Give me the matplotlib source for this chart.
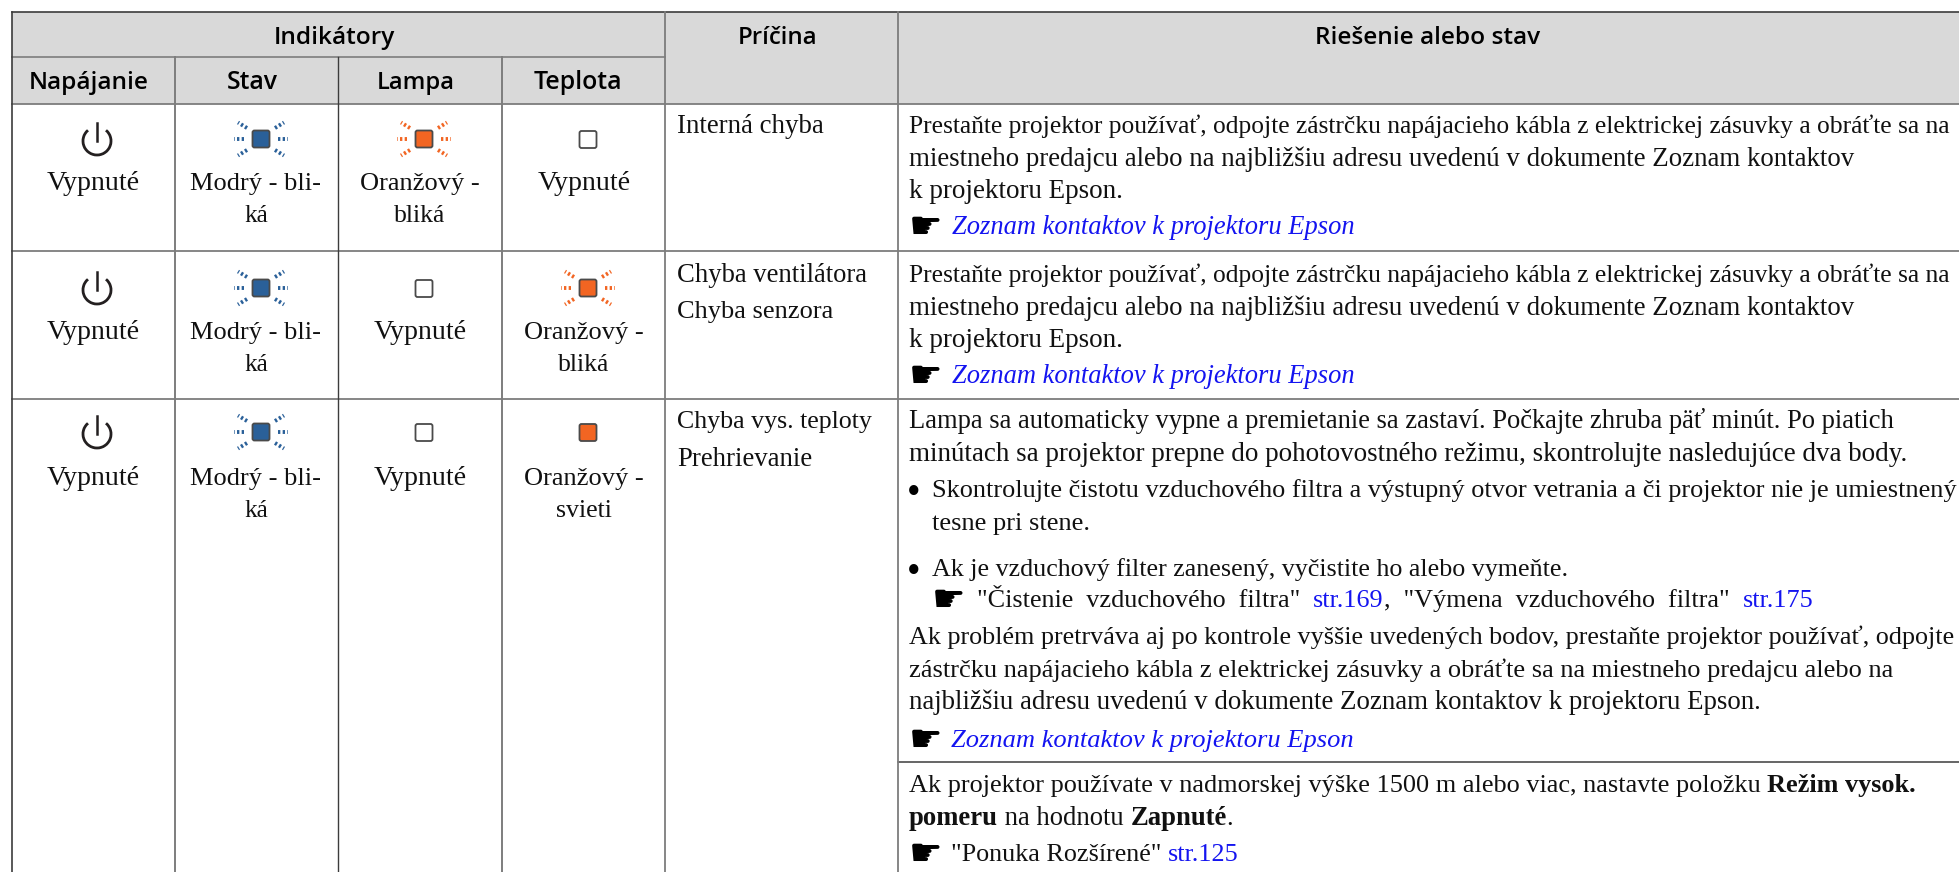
import matplotlib
matplotlib.use('Agg')
import matplotlib.pyplot as plt
from matplotlib.patches import Rectangle, FancyBboxPatch, Arc
from matplotlib.lines import Line2D

W = 1959
H = 872
SERIF = 'Liberation Serif'
HEAD = 'Open Sans'
BODY_SIZE = 17.6
LINK = '#1414f0'

# table text
group_head = ['Indikátory', 'Príčina', 'Riešenie alebo stav']
sub_head = ['Napájanie', 'Stav', 'Lampa', 'Teplota']

# one row per error: (icon, label lines) for the four lamps
lamp_rows = [
    [('power', ['Vypnuté']), ('blue_blink', ['Modrý - bli-', 'ká']), ('orange_blink', ['Oranžový -', 'bliká']), ('off', ['Vypnuté'])],
    [('power', ['Vypnuté']), ('blue_blink', ['Modrý - bli-', 'ká']), ('off', ['Vypnuté']), ('orange_blink', ['Oranžový -', 'bliká'])],
    [('power', ['Vypnuté']), ('blue_blink', ['Modrý - bli-', 'ká']), ('off', ['Vypnuté']), ('orange_on', ['Oranžový -', 'svieti'])],
]
cause_rows = [
    ['Interná chyba'],
    ['Chyba ventilátora', 'Chyba senzora'],
    ['Chyba vys. teploty', 'Prehrievanie'],
]

call_1 = 'Prestaňte projektor používať, odpojte zástrčku napájacieho kábla z elektrickej zásuvky a obráťte sa na'
call_2 = 'miestneho predajcu alebo na najbližšiu adresu uvedenú v dokumente Zoznam kontaktov'
call_3 = 'k projektoru Epson.'
contacts = 'Zoznam kontaktov k projektoru Epson'

solution_lines = [
    [('n', call_1)],
    [('n', call_2)],
    [('n', call_3)],
    [('i', contacts)],
    [('n', call_1)],
    [('n', call_2)],
    [('n', call_3)],
    [('i', contacts)],
    [('n', 'Lampa sa automaticky vypne a premietanie sa zastaví. Počkajte zhruba päť minút. Po piatich')],
    [('n', 'minútach sa projektor prepne do pohotovostného režimu, skontrolujte nasledujúce dva body.')],
    [('n', '•')],
    [('n', 'Skontrolujte čistotu vzduchového filtra a výstupný otvor vetrania a či projektor nie je umiestnený')],
    [('n', 'tesne pri stene.')],
    [('n', '•')],
    [('n', 'Ak je vzduchový filter zanesený, vyčistite ho alebo vymeňte.')],
    [('n', '"Čistenie  vzduchového  filtra"  '), ('l', 'str.169'), ('n', ',  "Výmena  vzduchového  filtra"  '), ('l', 'str.175')],
    [('n', 'Ak problém pretrváva aj po kontrole vyššie uvedených bodov, prestaňte projektor používať, odpojte')],
    [('n', 'zástrčku napájacieho kábla z elektrickej zásuvky a obráťte sa na miestneho predajcu alebo na')],
    [('n', 'najbližšiu adresu uvedenú v dokumente Zoznam kontaktov k projektoru Epson.')],
    [('i', contacts)],
    [('n', 'Ak projektor používate v nadmorskej výške 1500 m alebo viac, nastavte položku '), ('b', 'Režim vysok.')],
    [('b', 'pomeru'), ('n', ' na hodnotu '), ('b', 'Zapnuté'), ('n', '.')],
    [('n', '"Ponuka Rozšírené" '), ('l', 'str.125')],
]

# pixel layout, same order as solution_lines
sol_left = [909, 909, 909, 952, 909, 909, 909, 952, 909, 909, 907, 932, 932, 907, 932, 977, 909, 909, 909, 951, 909, 909, 951]
sol_right = [1950, 1857, 1122, 1355, 1950, 1857, 1122, 1355, 1894, 1907, 1954, 1954, 1090, 1954, 1568, 1810, 1954, 1892, 1762, 1353, 1914, 1233, 1239]
sol_base = [133, 166, 198, 234, 282, 315, 347, 383, 428, 461, 504, 497, 530, 583, 576, 607, 644, 677, 709, 747, 792, 825, 861]
hand_pos = [(909, 234), (909, 383), (932, 607), (909, 747), (909, 861)]

col_x = [12, 175, 338, 502, 665, 898]
row_y = [12, 57, 104, 251, 399]
split_y = 762
lamp_center = [97, 261, 424, 588]
label_center = [93, 256, 420, 584]
label_width = {'Vypnuté': 93, 'Modrý - bli-': 130, 'ká': 24, 'Oranžový -': 119, 'bliká': 51, 'svieti': 56}
icon_y = [140, 289, 433]
label_base = [[190, 222], [339, 371], [485, 517]]
cause_base = [[133], [282, 318], [428, 466]]
cause_right = [[824], [867, 833], [872, 812]]

fig = plt.figure(figsize=(W / 100, H / 100), dpi=100)
ax = fig.add_axes([0, 0, 1, 1])
ax.set_xlim(0, W)
ax.set_ylim(H, 0)
ax.axis('off')
rend = fig.canvas.get_renderer()


def width(t):
    return t.get_window_extent(rend).width


def put_fit(x, y, s, right=None, **kw):
    # shrink or grow the font a little so the line ends where it should
    t = ax.text(x, y, s, va='baseline', **kw)
    if right is not None:
        t.set_fontsize(t.get_fontsize() * (right - x) / width(t))
    return t


def advance(s, size, kind):
    t = ax.text(0, 0, s + '.', fontsize=size, family=SERIF, weight='bold' if kind == 'b' else 'normal',
                style='italic' if kind == 'i' else 'normal')
    d = ax.text(0, 0, '.', fontsize=size, family=SERIF, weight='bold' if kind == 'b' else 'normal',
                style='italic' if kind == 'i' else 'normal')
    a = width(t) - width(d)
    t.remove()
    d.remove()
    return a


def put_runs(runs, left, right, base):
    total = sum(advance(s, BODY_SIZE, k) for k, s in runs)
    size = BODY_SIZE * (right - left) / total
    x = left
    for k, s in runs:
        ax.text(x, base, s, va='baseline', fontsize=size, family=SERIF,
                color=LINK if k in ('l', 'i') else '#111111',
                weight='bold' if k == 'b' else 'normal',
                style='italic' if k == 'i' else 'normal')
        x += advance(s, size, k)


def rounded(cx, cy, color):
    ax.add_patch(FancyBboxPatch((cx - 8.5, cy - 8.5), 17, 17, boxstyle='round,pad=0,rounding_size=2',
                                fc=color, ec='#4a4a4a', lw=1.3, zorder=3))


def rays(cx, cy, color):
    for sx in (-1, 1):
        ax.add_line(Line2D([cx + sx * 17, cx + sx * 27], [cy, cy], color=color, lw=2.8, dashes=(0.6, 0.6)))
        for sy in (-1, 1):
            ax.add_line(Line2D([cx + sx * 14, cx + sx * 23], [cy + sy * 11, cy + sy * 16.5], color=color, lw=2.8, dashes=(0.6, 0.6)))


def icon(kind, cx, cy):
    if kind == 'power':
        ax.add_patch(Arc((cx, cy + 1), 28, 28, theta1=-50, theta2=230, angle=0, lw=2, color='#231f20'))
        ax.add_line(Line2D([cx, cx], [cy - 17, cy + 1], color='#231f20', lw=1.8))
    elif kind == 'off':
        rounded(cx, cy - 0.5, 'white')
    elif kind == 'orange_on':
        rounded(cx, cy - 0.5, '#f26522')
    elif kind == 'blue_blink':
        rays(cx, cy - 1, '#2a6099')
        rounded(cx, cy - 1, '#2a6099')
    elif kind == 'orange_blink':
        rays(cx, cy - 1, '#f26522')
        rounded(cx, cy - 1, '#f26522')


# header background
ax.add_patch(Rectangle((col_x[0], row_y[0]), W - col_x[0], row_y[2] - row_y[0], fc='#d9d9d9', ec='none', zorder=0))

# rules
dark = '#3c3c3c'
grey = '#7d7d7d'
ax.add_line(Line2D([col_x[0], W], [row_y[0], row_y[0]], color=dark, lw=1.2))
ax.add_line(Line2D([col_x[0], col_x[4]], [row_y[1], row_y[1]], color=grey, lw=1.2))
for y in row_y[2:]:
    ax.add_line(Line2D([col_x[0], W], [y, y], color=grey, lw=1.3))
ax.add_line(Line2D([col_x[5], W], [split_y, split_y], color=dark, lw=1.1))
ax.add_line(Line2D([col_x[0], col_x[0]], [row_y[0], H], color=dark, lw=1.2))
ax.add_line(Line2D([col_x[1], col_x[1]], [row_y[1], H], color=grey, lw=1.4))
ax.add_line(Line2D([col_x[2], col_x[2]], [row_y[1], H], color=dark, lw=1.0))
ax.add_line(Line2D([col_x[3], col_x[3]], [row_y[1], H], color=grey, lw=1.4))
ax.add_line(Line2D([col_x[4], col_x[4]], [row_y[0], H], color=grey, lw=1.3))
ax.add_line(Line2D([col_x[5], col_x[5]], [row_y[0], H], color=grey, lw=1.3))

# headers
head_kw = dict(family=HEAD, weight=600, color='black', ha='left', fontsize=16)
put_fit(274, 44, group_head[0], right=396, **head_kw)
put_fit(738, 44, group_head[1], right=818, **head_kw)
put_fit(1315, 44, group_head[2], right=1541, **head_kw)
sub_left = [29, 227, 377, 534]
sub_right = [149, 278, 455, 623]
for s, l, r in zip(sub_head, sub_left, sub_right):
    put_fit(l, 89, s, right=r, **head_kw)

# lamp columns
for i in range(3):
    for j in range(4):
        kind, labels = lamp_rows[i][j]
        icon(kind, lamp_center[j], icon_y[i])
        for n, s in enumerate(labels):
            t = ax.text(label_center[j], label_base[i][n], s, ha='center', va='baseline',
                        family=SERIF, fontsize=BODY_SIZE, color='#111111')
            t.set_fontsize(BODY_SIZE * label_width[s] / width(t))

# cause column
for i in range(3):
    for n, s in enumerate(cause_rows[i]):
        put_fit(677, cause_base[i][n], s, right=cause_right[i][n], family=SERIF, fontsize=BODY_SIZE, color='#111111')

# solution column
for runs, l, r, y in zip(solution_lines, sol_left, sol_right, sol_base):
    if runs[0][1] == '•':
        ax.text(l, y, '•', va='baseline', family=SERIF, fontsize=28, color='black')
    else:
        put_runs(runs, l, r, y)
for x, y in hand_pos:
    ax.text(x, y + 4, '\u261b', va='baseline', family='DejaVu Sans', fontsize=27, color='black')

fig.savefig('out.png', dpi=100)
